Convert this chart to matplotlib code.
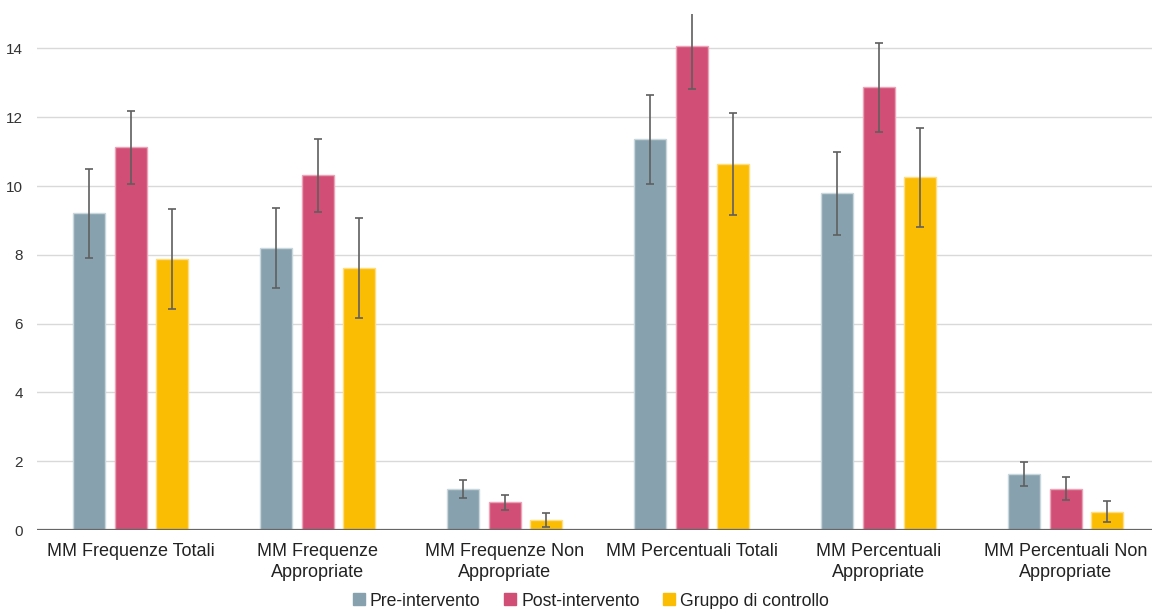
import numpy as np
import matplotlib as mpl
import matplotlib.pyplot as plt
from matplotlib.lines import Line2D
mpl.use('Agg')

plt.rcParams['font.family'] = ['Liberation Sans', 'DejaVu Sans']

categories = ['MM Frequenze Totali', 'MM Frequenze\nAppropriate', 'MM Frequenze Non\nAppropriate',
              'MM Percentuali Totali', 'MM Percentuali\nAppropriate', 'MM Percentuali Non\nAppropriate']
series_names = ['Pre-intervento', 'Post-intervento', 'Gruppo di controllo']

pre = [9.21, 8.19, 1.19, 11.36, 9.79, 1.63]
post = [11.12, 10.31, 0.81, 14.06, 12.87, 1.20]
ctrl = [7.87, 7.61, 0.30, 10.63, 10.25, 0.53]

pre_err = [1.29, 1.16, 0.27, 1.29, 1.20, 0.35]
post_err = [1.06, 1.06, 0.22, 1.25, 1.29, 0.33]
ctrl_err = [1.45, 1.45, 0.20, 1.48, 1.44, 0.31]

colors = ['#87A2AE', '#D14F76', '#FBBC04']
edges = ['#C9D7DD', '#EBA3B8', '#FFDD80']

fig = plt.figure(figsize=(11.52, 6.09), dpi=100)
ax = fig.add_axes([37/1152, 1 - 530/609, (1159.5 - 37)/1152, (530 - 14)/609])

x = np.arange(len(categories))
w = 0.171
off = 0.222
for i, (vals, errs) in enumerate(zip([pre, post, ctrl], [pre_err, post_err, ctrl_err])):
    ax.bar(x + (i - 1) * off, vals, w, color=colors[i], edgecolor=edges[i], linewidth=1,
           yerr=errs, error_kw=dict(ecolor='#5f5f5f', elinewidth=1.2, capsize=3, capthick=1.2),
           zorder=3)

ax.set_xlim(-0.5, 5.5)
ax.set_ylim(0, 15)
ax.set_yticks(range(0, 15, 2))
ax.yaxis.grid(True, color='#d9d9d9', linewidth=1, zorder=0)
ax.axhline(0, color='#666666', linewidth=1.6, zorder=4)
for s in ax.spines.values():
    s.set_visible(False)
ax.tick_params(axis='y', length=0, pad=10, labelsize=11, labelcolor='#333333')
ax.tick_params(axis='x', length=0, pad=9, labelsize=13, labelcolor='#222222')
ax.set_xticks(x)
ax.set_xticklabels(categories, linespacing=1.35)

handles = [Line2D([], [], marker='s', linestyle='none', markersize=8, color=c) for c in colors]
fig.legend(handles, series_names, loc='center', bbox_to_anchor=(591/1152, 1 - 601/609),
           ncol=3, frameon=False, fontsize=12.7, handlelength=0.7, handletextpad=0.25,
           columnspacing=1.35, borderaxespad=0, labelcolor='#222222')

fig.savefig('out.png', dpi=100)
